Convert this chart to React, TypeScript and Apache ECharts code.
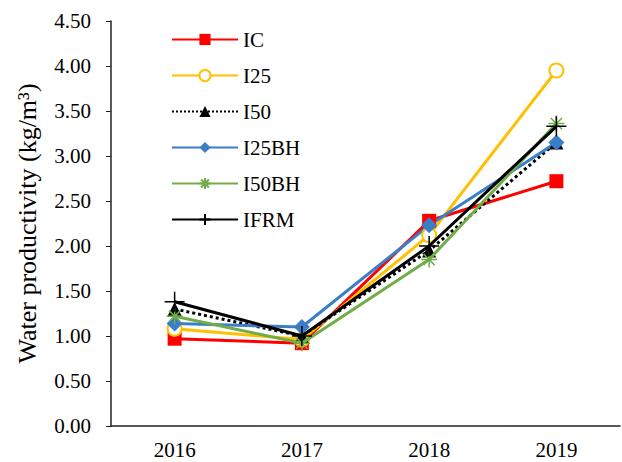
import React, { useEffect, useRef } from "react";
import * as echarts from "echarts";

const years = ["2016", "2017", "2018", "2019"];
const icValues = [0.97, 0.92, 2.28, 2.72];
const i25Values = [1.08, 0.96, 2.12, 3.95];
const i50Values = [1.3, 1.0, 1.95, 3.15];
const i25bhValues = [1.14, 1.1, 2.23, 3.15];
const i50bhValues = [1.22, 0.92, 1.85, 3.36];
const ifrmValues = [1.38, 1.0, 2.0, 3.33];

const FONT = "Liberation Serif, Times New Roman, serif";

const asterisk = "path://M0,-10L0,10M-10,0L10,0M-7,-7L7,7M-7,7L7,-7";
const plusMark = "path://M0,-10L0,10M-10,0L10,0";

function line(name: string, data: number[], color: string, symbol: string, size: number, extra: any = {}) {
  return {
    name,
    type: "line",
    data,
    symbol,
    symbolSize: size,
    lineStyle: { color, width: 3, type: extra.lineType || "solid" },
    itemStyle: {
      color: extra.fill || color,
      borderColor: color,
      borderWidth: extra.border ?? 0,
    },
    z: extra.z ?? 2,
  };
}

export default function App() {
  const ref = useRef<HTMLDivElement>(null);
  useEffect(() => {
    if (!ref.current) return;
    const chart = echarts.init(ref.current, null, { renderer: "svg" });
    chart.setOption({
      animation: false,
      backgroundColor: "#ffffff",
      grid: { left: 111, right: 2, top: 21, bottom: 36 },
      legend: {
        orient: "vertical",
        left: 171,
        top: 29,
        padding: 0,
        itemWidth: 66,
        itemHeight: 14,
        itemGap: 15,
        textStyle: { fontFamily: FONT, fontSize: 21, color: "#000" },
        data: ["IC", "I25", "I50", "I25BH", "I50BH", "IFRM"],
      },
      xAxis: {
        type: "category",
        data: years,
        boundaryGap: true,
        axisLine: { lineStyle: { color: "#222", width: 1.5 } },
        axisTick: { alignWithLabel: true, length: 5, lineStyle: { color: "#222" } },
        axisLabel: { fontFamily: FONT, fontSize: 21, color: "#000", margin: 13 },
      },
      yAxis: {
        type: "value",
        min: 0,
        max: 4.5,
        interval: 0.5,
        name: "Water productivity (kg/m³)",
        nameLocation: "middle",
        nameGap: 71,
        nameTextStyle: { fontFamily: FONT, fontSize: 26, color: "#000" },
        splitLine: { show: false },
        axisLine: { show: true, lineStyle: { color: "#222", width: 1.5 } },
        axisTick: { show: true, length: 5, lineStyle: { color: "#222" } },
        axisLabel: {
          fontFamily: FONT,
          fontSize: 21,
          color: "#000",
          margin: 20,
          formatter: (v: number) => v.toFixed(2),
        },
      },
      series: [
        line("IC", icValues, "#ff0000", "rect", 14),
        line("I25", i25Values, "#ffc000", "circle", 14, { fill: "#ffffff", border: 2 }),
        line("I50", i50Values, "#000000", "triangle", 14, { lineType: "dotted" }),
        line("I25BH", i25bhValues, "#3a7dc8", "diamond", 16),
        line("I50BH", i50bhValues, "#70ad47", asterisk, 16, { border: 1.5, z: 3 }),
        line("IFRM", ifrmValues, "#000000", plusMark, 20, { border: 1.5, z: 4 }),
      ],
    });
    return () => chart.dispose();
  }, []);
  return (
    <div
      ref={ref}
      style={{ position: "absolute", left: 0, top: 0, width: 622, height: 462 }}
    />
  );
}
